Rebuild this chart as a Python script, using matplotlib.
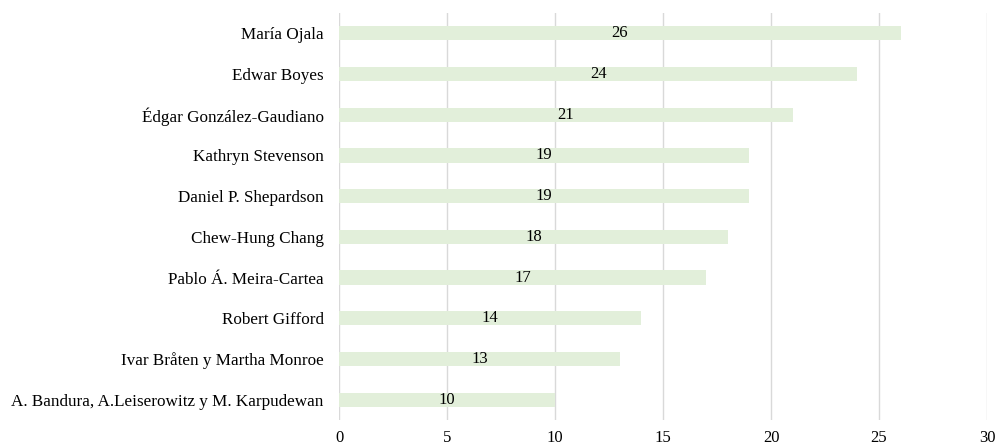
import matplotlib
matplotlib.use("Agg")
import matplotlib.pyplot as plt

# authors and number of citations (top to bottom)
authors = ["María Ojala", "Edwar Boyes", "Édgar González-Gaudiano",
           "Kathryn Stevenson", "Daniel P. Shepardson", "Chew-Hung Chang",
           "Pablo Á. Meira-Cartea", "Robert Gifford",
           "Ivar Bråten y Martha Monroe",
           "A. Bandura, A.Leiserowitz y M. Karpudewan"]
counts = [26, 24, 21, 19, 19, 18, 17, 14, 13, 10]
xticks = [0, 5, 10, 15, 20, 25, 30]

plt.rcParams['font.family'] = ['Liberation Serif', 'DejaVu Serif']

fig = plt.figure(figsize=(9.98, 4.46), dpi=100)
ax = fig.add_axes([0.3397, 0.0583, 0.6493, 0.9126])

ypos = list(range(len(authors)))
ax.barh(ypos, counts, height=0.35, color="#E2EFDA", zorder=2)
for y, c in zip(ypos, counts):
    ax.text(c / 2, y, str(c), ha="center", va="center", fontsize=12, color="#000000", zorder=3)

ax.set_yticks(ypos)
ax.set_yticklabels(authors, fontsize=12.3)
ax.set_ylim(len(authors) - 0.5, -0.5)
ax.set_xlim(0, 30)
ax.set_xticks(xticks)
ax.set_xticklabels([str(t) for t in xticks], fontsize=12)
ax.tick_params(axis="both", length=0)
ax.tick_params(axis="x", pad=7)
ax.tick_params(axis="y", pad=11)
ax.grid(axis="x", color="#D9D9D9", linewidth=1.0, zorder=0)
for s in ax.spines.values():
    s.set_visible(False)

fig.savefig("out.png", dpi=100)
